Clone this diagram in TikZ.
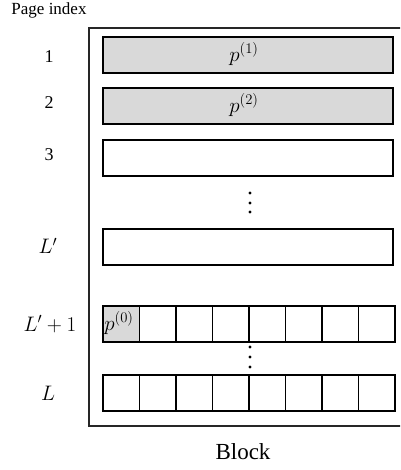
\documentclass[tikz,border=0pt]{standalone}
\usepackage{fix-cm}
\usepackage{fontspec}
\setmainfont{Liberation Serif}
\begin{document}
\begin{tikzpicture}[x=1pt,y=-1pt,
  rowbox/.style={draw=black,line width=1.6pt,minimum width=290pt,minimum height=36pt,inner sep=0pt,outer sep=0pt},
  grayfill/.style={fill=black!15},
  cellbox/.style={draw=black,line width=1.4pt,minimum width=36.5pt,minimum height=36pt,inner sep=0pt,outer sep=0pt},
  idx/.style={font=\fontsize{18}{21}\selectfont,inner sep=0pt},
  mlab/.style={font=\fontsize{21}{25}\selectfont,inner sep=0pt},
  mth/.style={font=\fontsize{21}{25}\selectfont,inner sep=0pt},
  dotmark/.style={fill=black,circle,inner sep=0pt,minimum size=3.2pt}]
\useasboundingbox (0,0) rectangle (400,470);
\clip (0,0) rectangle (400,470);
% outer block
\draw[line width=1.3pt,draw=black!85] (410,28) -- (89,28) -- (89,426) -- (410,426);
% rows
\node[rowbox,grayfill] (r1) at (248,55) {};
\node[rowbox,grayfill] (r2) at (248,106) {};
\node[rowbox] (r3) at (248,158) {};
\node[rowbox] (rl) at (248,247) {};
\node[mth] (t1) at (244,54) {$p^{(1)}$};
\node[mth] (t2) at (244,105) {$p^{(2)}$};
% cells
\foreach \i in {0,...,7}{
  \node[cellbox] (a\i) at (121.25+36.5*\i,324) {};
  \node[cellbox] (b\i) at (121.25+36.5*\i,393) {};
}
\node[cellbox,grayfill] (a0) at (121.25,324) {};
\node[mth] (p0) at (119,323) {$p^{(0)}$};
% dots
\node[dotmark] (d1) at (250,193) {};
\node[dotmark] (d2) at (250,203) {};
\node[dotmark] (d3) at (250,212) {};
\node[dotmark] (e1) at (250,347) {};
\node[dotmark] (e2) at (250,357) {};
\node[dotmark] (e3) at (250,367) {};
% labels
\node[font=\fontsize{17}{20}\selectfont,inner sep=0pt] (pi) at (49,10) {Page index};
\node[idx] (l1) at (49,57) {1};
\node[idx] (l2) at (49,103) {2};
\node[idx] (l3) at (49,155) {3};
\node[mlab] (ll) at (48,246) {$L'$};
\node[mlab] (ll1) at (50,324) {$L'+1$};
\node[mlab] (lL) at (48,393) {$L$};
\node[font=\fontsize{23}{27}\selectfont,inner sep=0pt] (blk) at (243,452) {Block};
\end{tikzpicture}
\end{document}
